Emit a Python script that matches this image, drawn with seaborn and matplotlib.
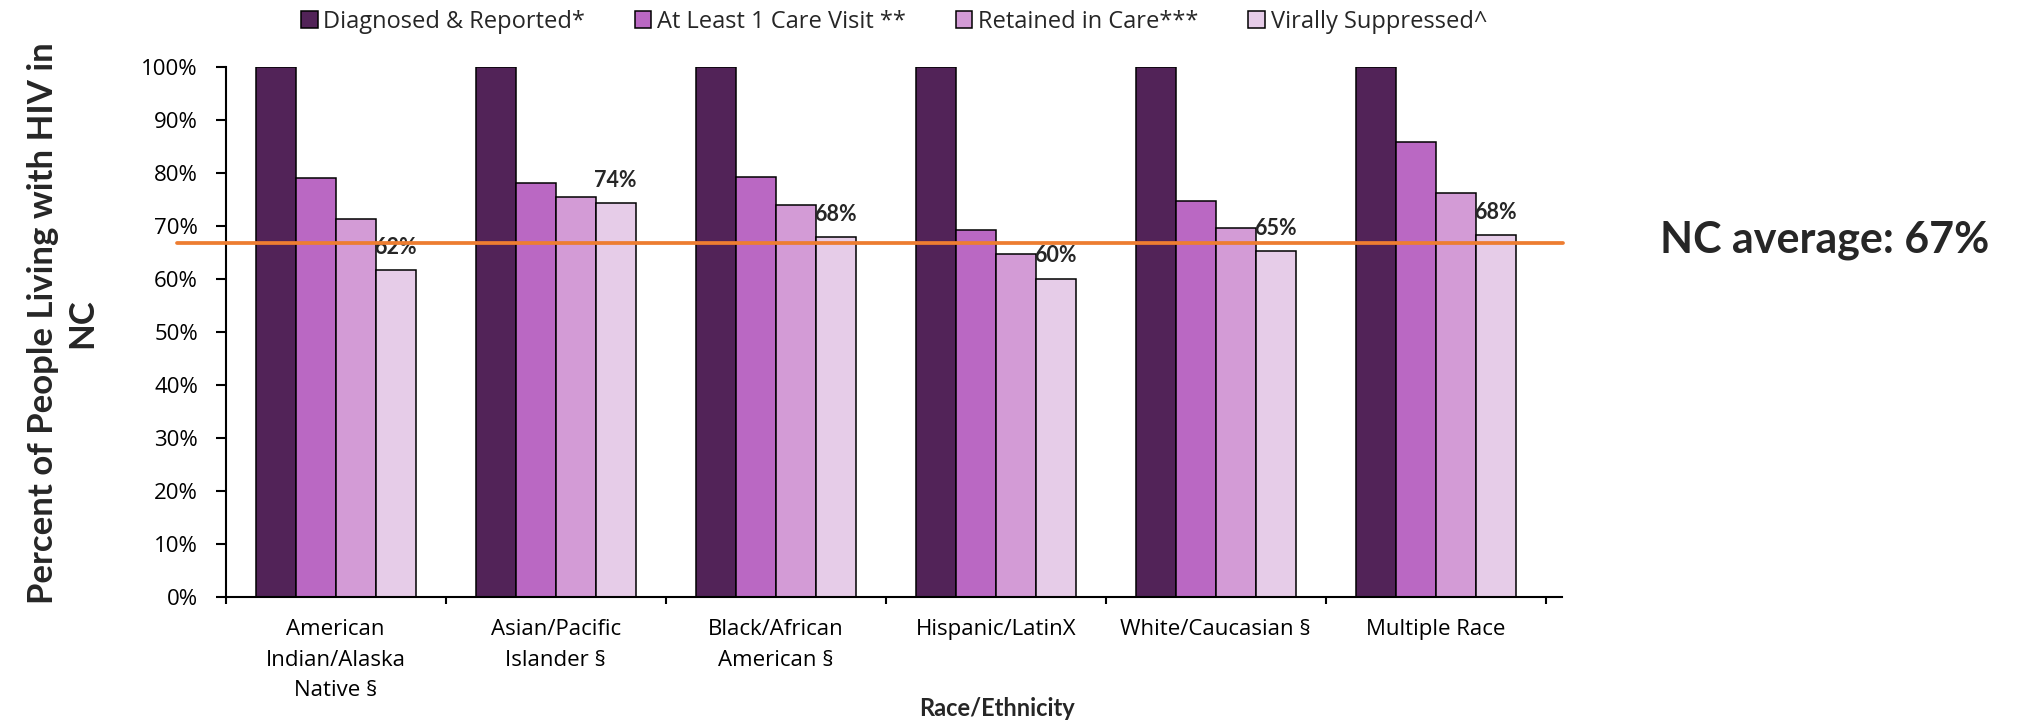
import matplotlib
matplotlib.use("Agg")
import matplotlib.pyplot as plt
from matplotlib.patches import Patch
import pandas as pd
import seaborn as sns

# values
categories = ["American\nIndian/Alaska\nNative §", "Asian/Pacific\nIslander §",
              "Black/African\nAmerican §", "Hispanic/LatinX",
              "White/Caucasian §", "Multiple Race"]
series = ["Diagnosed & Reported*", "At Least 1 Care Visit **",
          "Retained in Care***", "Virally Suppressed^"]
diagnosed = [100, 100, 100, 100, 100, 100]
care_visit = [79.0, 78.0, 79.2, 69.1, 74.7, 85.8]
retained = [71.3, 75.4, 73.9, 64.7, 69.6, 76.1]
suppressed = [61.6, 74.2, 67.8, 60.0, 65.2, 68.2]
suppressed_labels = ["62%", "74%", "68%", "60%", "65%", "68%"]
nc_average = 66.7
nc_text = "NC average: 67%"
y_ticks = [0, 10, 20, 30, 40, 50, 60, 70, 80, 90, 100]
y_tick_labels = ["0%", "10%", "20%", "30%", "40%", "50%", "60%",
                 "70%", "80%", "90%", "100%"]
colors = ["#522358", "#BA68C3", "#D39BD6", "#E6CCE8"]

rows = []
for name, vals in zip(series, [diagnosed, care_visit, retained, suppressed]):
    for cat, v in zip(categories, vals):
        rows.append({"category": cat, "series": name, "value": v})
df = pd.DataFrame(rows)

sns.set_theme(style="white")
plt.rcParams["font.family"] = ["Open Sans", "DejaVu Sans"]
BOLD = ["Lato", "DejaVu Sans"]

fig = plt.figure(figsize=(20.19, 7.21), dpi=100)
ax = fig.add_axes([0.1118, 0.1724, 0.6617, 0.7351])

sns.barplot(data=df, x="category", y="value", hue="series", order=categories,
            hue_order=series, palette=colors, saturation=1, edgecolor="black",
            linewidth=1.1, width=0.727, gap=0, legend=False, ax=ax)

ax.set_ylim(0, 100)
ax.set_xlim(-0.5, 5.572)
ax.set_yticks(y_ticks)
ax.set_yticklabels(y_tick_labels)
ax.set_xticks(range(len(categories)))
ax.set_xticklabels(categories, linespacing=1.6)
ax.set_xticks([i - 0.5 for i in range(len(categories) + 1)], minor=True)
ax.tick_params(axis="y", labelsize=16, length=7, width=1.5, pad=13,
               direction="out", left=True, colors="black")
ax.tick_params(axis="x", which="major", labelsize=16, length=0, pad=16,
               colors="black")
ax.tick_params(axis="x", which="minor", length=5, width=1.5,
               direction="out", bottom=True, colors="black")
ax.set_xlabel("")
ax.set_ylabel("")
for side in ["top", "right"]:
    ax.spines[side].set_visible(False)
for side in ["left", "bottom"]:
    ax.spines[side].set_color("black")
    ax.spines[side].set_linewidth(1.5)

ax.bar_label(ax.containers[-1], labels=suppressed_labels, padding=9,
             fontsize=15.5, fontweight="bold", family=BOLD, zorder=3)

ax.axhline(nc_average, xmin=-0.0365, xmax=1.001, color="#ED7D31", lw=2.7,
           clip_on=False, zorder=5)

fig.text(1660 / 2019, (721 - 253) / 721, nc_text, fontsize=31,
         fontweight="bold", family=BOLD, ha="left", va="baseline")
fig.text(0.031, 0.552, "Percent of People Living with HIV in\nNC",
         rotation=90, fontsize=25, fontweight="bold", family=BOLD,
         ha="center", va="center", multialignment="center", linespacing=1.3)
fig.text(997 / 2019, (721 - 709) / 721, "Race/Ethnicity", fontsize=17,
         fontweight="bold", family=BOLD, ha="center", va="center")

handles = [Patch(facecolor=c, edgecolor="black", linewidth=1.1) for c in colors]
fig.legend(handles, series, loc="center left",
           bbox_to_anchor=(301 / 2019, 1 - 21.5 / 721), ncol=4, frameon=False,
           fontsize=17, handlelength=0.7, handleheight=0.7,
           handletextpad=0.25, columnspacing=2.1, borderpad=0,
           borderaxespad=0)

fig.savefig("out.png", dpi=100)
